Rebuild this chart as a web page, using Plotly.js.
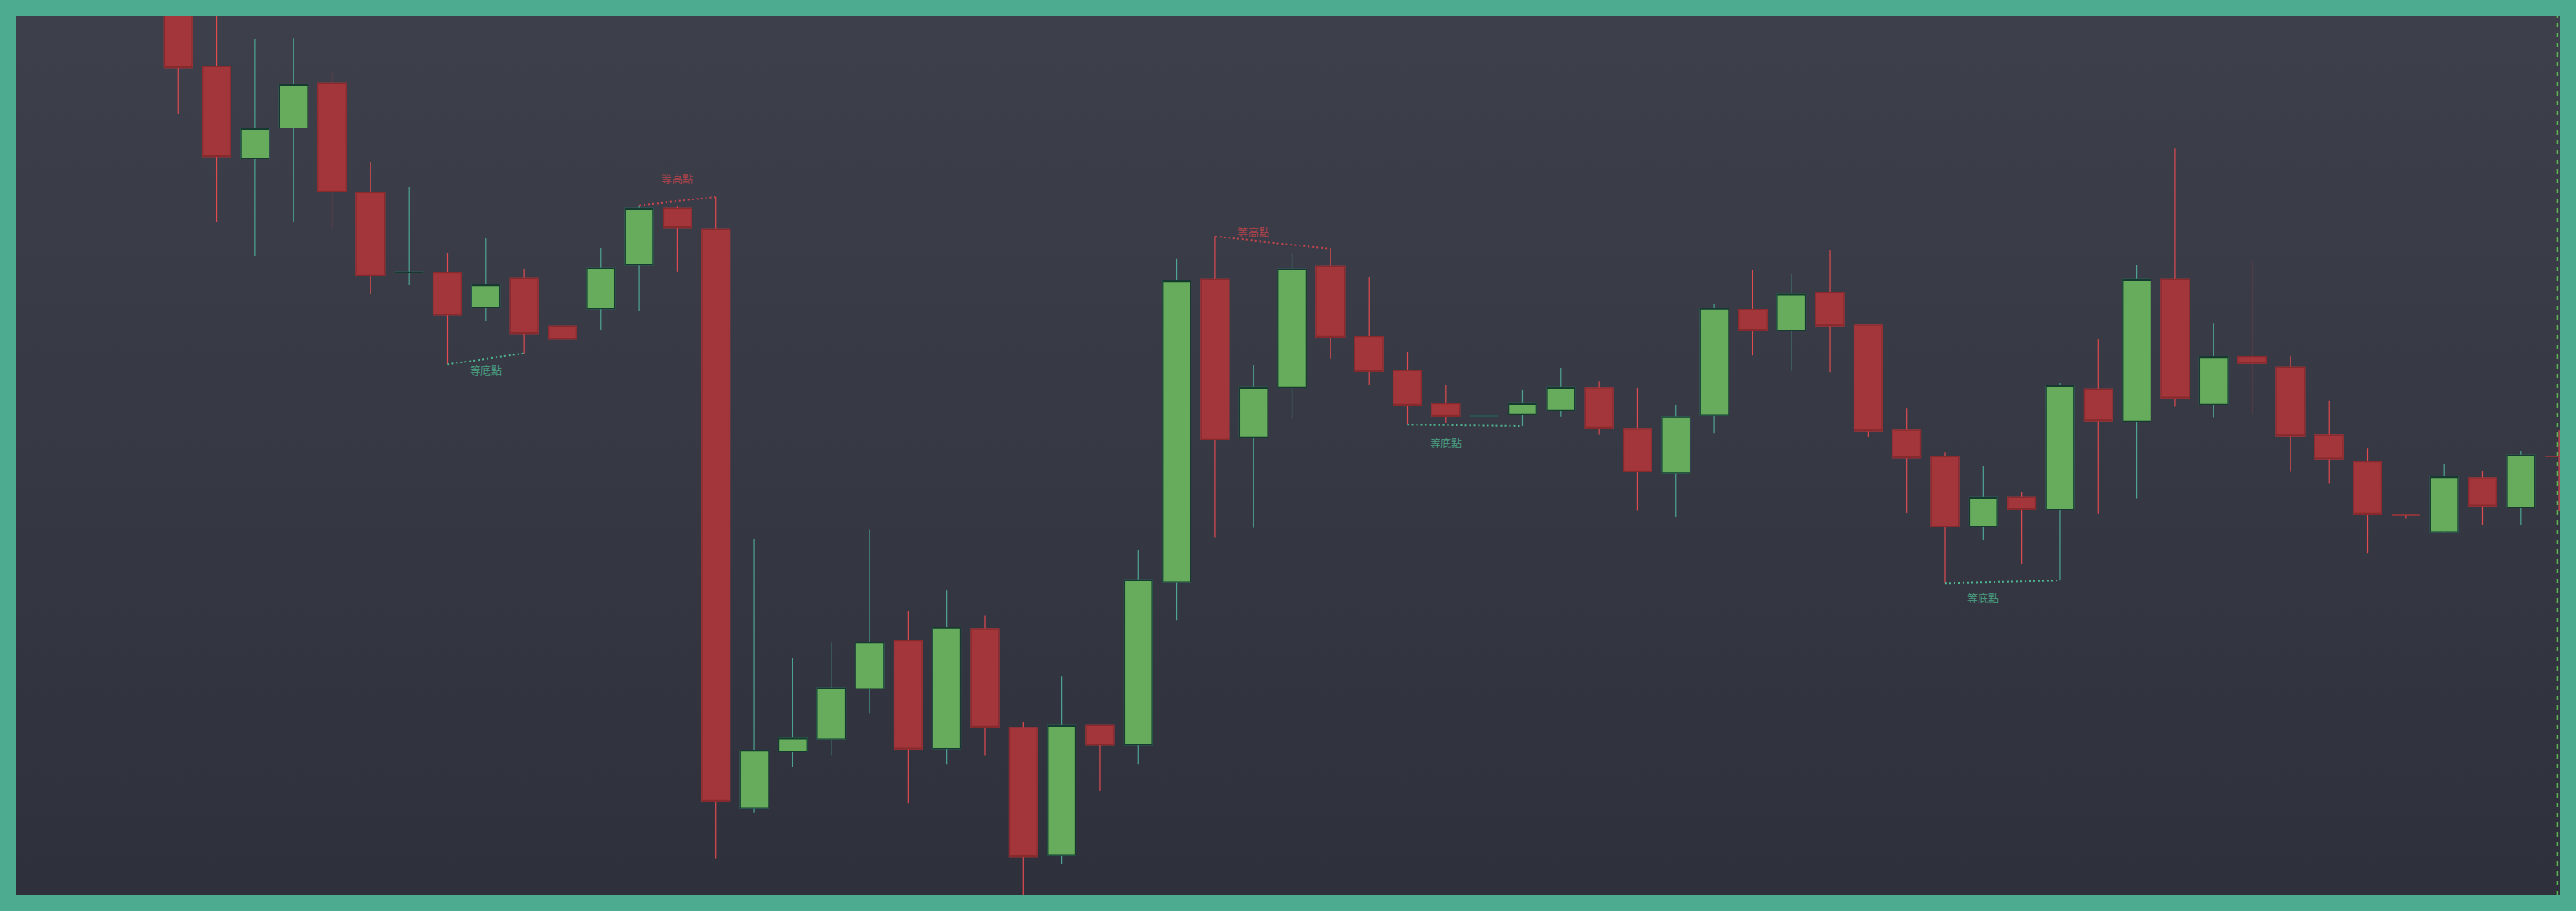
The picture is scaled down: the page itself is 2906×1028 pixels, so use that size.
<!DOCTYPE html>
<html>
<head>
<meta charset="utf-8">
<script src="https://cdn.plot.ly/plotly-3.0.1.min.js"></script>
<style>
  html, body { margin: 0; padding: 0; background: #4dab8f; }
  #frame { position: absolute; left: 0; top: 0; width: 2906px; height: 1028px; background: #4dab8f; }
  #chart { position: absolute; left: 18px; top: 18px; width: 2870px; height: 992px;
           background: linear-gradient(to bottom, #3d3f4b 0%, #363844 50%, #2e303c 100%); }
</style>
</head>
<body>
<div id="frame"><div id="chart"></div></div>
<script>
// ---- data (bar number, OHLC) ----
const bars = [0,1,2,3,4,5,6,7,8,9,10,11,12,13,14,15,16,17,18,19,20,21,22,23,24,25,26,27,28,29,30,
  31,32,33,34,35,36,37,38,39,40,41,42,43,44,45,46,47,48,49,50,51,52,53,54,55,56,57,58,59,60,61,62];

const open = [110.00,102.47,92.15,95.55,100.56,88.25,79.27,79.23,75.33,78.57,73.17,75.13,80.13,86.47,84.17,
  18.80,25.15,26.60,32.30,37.74,25.54,38.98,27.90,13.48,28.16,25.93,44.30,78.46,60.67,66.27,79.97,
  72.03,68.17,64.43,63.10,63.27,63.67,66.20,61.60,56.62,63.18,75.05,72.75,76.95,73.28,61.48,58.46,
  50.57,53.87,52.53,66.07,62.46,78.46,64.36,69.74,68.56,60.89,57.93,51.90,50.00,56.10,52.75,58.52];

const high = [111.00,110.50,105.61,105.68,101.88,91.70,88.90,81.50,83.10,79.70,73.17,82.00,86.83,86.67,87.80,
  49.20,35.70,37.48,50.26,41.02,43.38,40.56,28.49,33.67,28.16,47.90,80.82,83.32,68.80,81.50,81.90,
  78.70,70.30,66.60,63.10,66.00,68.50,66.98,66.20,64.30,75.70,79.50,79.11,81.80,73.28,63.97,58.98,
  57.41,54.50,66.79,71.70,80.10,93.28,73.48,80.43,69.80,64.82,59.38,51.90,57.60,56.89,59.11,61.48];

const low = [97.10,84.93,81.10,85.00,84.30,76.80,77.80,68.87,73.80,70.13,71.73,72.80,74.90,79.33,13.15,
  18.33,23.44,24.75,29.48,19.38,23.77,24.75,7.00,12.49,20.69,23.77,39.97,49.34,50.46,62.73,69.53,
  66.53,62.07,62.30,63.10,61.90,63.03,60.95,52.36,51.70,61.08,69.87,68.16,67.97,60.69,52.10,44.17,
  49.10,46.40,44.48,52.03,53.74,64.16,62.85,63.25,56.75,55.44,47.57,51.44,49.87,50.79,50.79,52.30];

const close = [102.33,92.33,95.45,100.45,88.35,78.86,79.27,74.43,77.83,72.33,71.73,79.77,86.47,84.33,19.57,
  25.34,26.72,32.36,37.54,25.48,39.18,27.97,13.34,28.16,25.93,44.56,78.33,60.36,66.27,79.67,71.97,
  68.07,64.27,63.07,63.10,64.47,66.27,61.67,56.75,62.98,75.18,72.75,76.82,73.21,61.41,58.33,50.55,
  53.87,52.53,66.46,62.52,78.46,65.08,69.74,69.02,60.82,58.20,51.97,51.90,56.23,52.89,58.66,58.52];

// equal-high / equal-low markings
const markText  = ['等底點','等高點','等高點','等底點','等底點'];
const markKind  = ['low','high','high','low','low'];
const markFrom  = [7, 12, 27, 32, 46];
const markTo    = [9, 14, 30, 35, 49];
const markLabelY = [68.23, 89.83, 83.83, 60.07, 42.60];

// ---- styles ----
const UP_FILL = '#66ac5c', UP_EDGE = '#173a30', UP_WICK = '#4ea597';
const DN_FILL = '#a3363a', DN_EDGE = '#862a2e', DN_WICK = '#e04b50';
const HI_COLOR = '#c9474d', LO_COLOR = '#4fb58e';

const bodyTop = open.map((o, i) => Math.max(o, close[i]));
const bodyBot = open.map((o, i) => Math.min(o, close[i]));

const wicks = {
  type: 'candlestick', x: bars, open: open, high: high, low: low, close: close,
  increasing: { line: { color: UP_WICK, width: 1.2 }, fillcolor: UP_FILL },
  decreasing: { line: { color: DN_WICK, width: 1.2 }, fillcolor: DN_FILL },
  whiskerwidth: 0, hoverinfo: 'skip', showlegend: false
};
const bodies = {
  type: 'candlestick', x: bars, open: open, high: bodyTop, low: bodyBot, close: close,
  increasing: { line: { color: UP_EDGE, width: 1.2 }, fillcolor: UP_FILL },
  decreasing: { line: { color: DN_EDGE, width: 1.2 }, fillcolor: DN_FILL },
  whiskerwidth: 0, hoverinfo: 'skip', showlegend: false
};

const shapes = [];
const annotations = [];
markText.forEach((t, k) => {
  const src = markKind[k] === 'high' ? high : low;
  const col = markKind[k] === 'high' ? HI_COLOR : LO_COLOR;
  shapes.push({
    type: 'line', xref: 'x', yref: 'y',
    x0: bars[markFrom[k]], y0: src[markFrom[k]], x1: bars[markTo[k]], y1: src[markTo[k]],
    line: { color: col, width: 2, dash: '2px,3px' }
  });
  annotations.push({
    x: bars[markFrom[k] + 1], y: markLabelY[k], xref: 'x', yref: 'y', text: t, showarrow: false,
    font: { family: 'Noto Sans CJK TC, Noto Sans CJK SC, sans-serif', size: 12, color: col },
    opacity: 0.85
  });
});
// dashed marker at the latest bar
shapes.push({
  type: 'line', xref: 'x', yref: 'paper', x0: 61.96, x1: 61.96, y0: 0, y1: 1,
  line: { color: '#5ab552', width: 1.5, dash: '5px,6px' }
});

const layout = {
  width: 2870, height: 992,
  margin: { l: 0, r: 0, t: 0, b: 0 },
  paper_bgcolor: 'rgba(0,0,0,0)', plot_bgcolor: 'rgba(0,0,0,0)',
  showlegend: false,
  boxmode: 'overlay',
  boxgap: 0.27,
  boxgroupgap: 0,
  xaxis: { range: [-4.23, 62.02], visible: false, fixedrange: true, rangeslider: { visible: false } },
  yaxis: { range: [9.0, 108.2], visible: false, fixedrange: true },
  shapes: shapes,
  annotations: annotations
};

Plotly.newPlot('chart', [wicks, bodies], layout, { staticPlot: true, displayModeBar: false });
</script>
</body>
</html>
